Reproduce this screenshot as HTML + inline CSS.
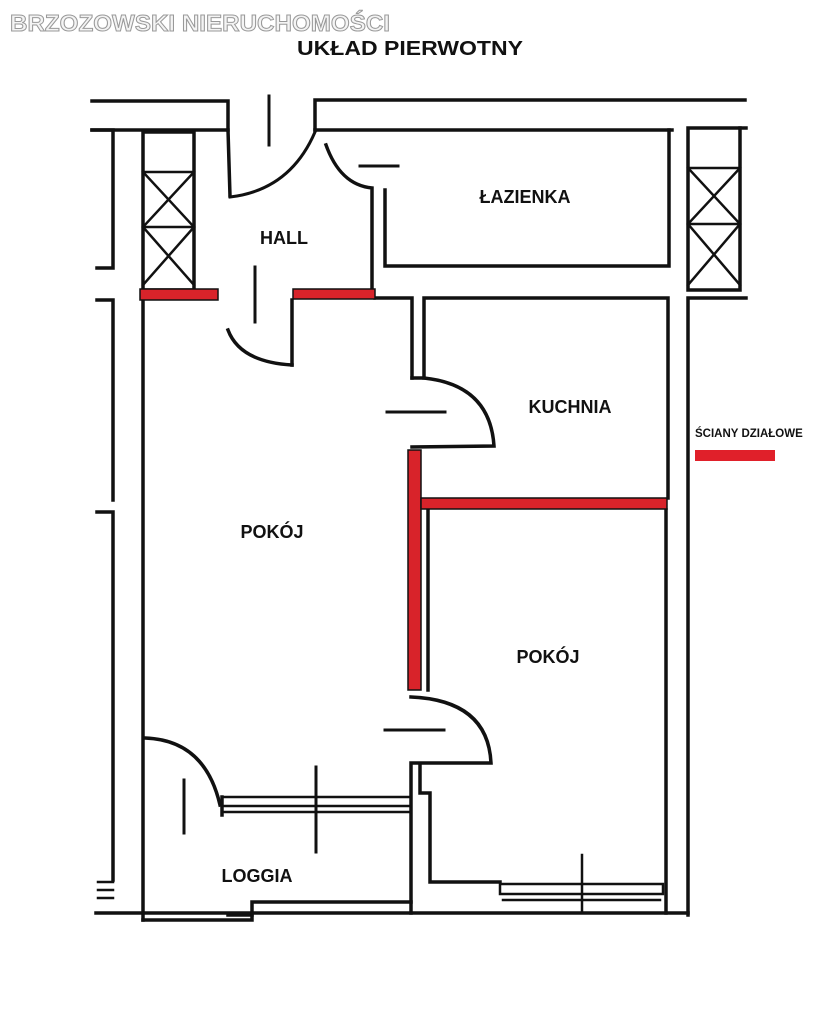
<!DOCTYPE html>
<html><head><meta charset="utf-8"><style>
body{margin:0;background:#fff;width:837px;height:1024px;overflow:hidden}
svg{display:block}
text{font-family:"Liberation Sans",sans-serif;font-weight:bold;fill:#111}
</style></head><body>
<svg width="837" height="1024" viewBox="0 0 837 1024" xmlns="http://www.w3.org/2000/svg">
<g fill="none" stroke="#111" stroke-width="3.5" stroke-linecap="square">
<polyline points="92,101 228,101 228,130"/>
<polyline points="92,130 228,130 230,196"/>
<polyline points="315,130 315,100 745,100"/>
<line x1="315" y1="130" x2="672" y2="130"/>
<line x1="269" y1="96" x2="269" y2="145" stroke-width="3"/>
<path d="M230,197 Q290,190 315,132" stroke-width="3"/>
<polyline points="385,190 385,266 669,266 669,130"/>
<path d="M326,145 Q340,185 372,188 L372,292"/>
<line x1="360" y1="166" x2="398" y2="166" stroke-width="3"/>
<polyline points="92,130 113,130 113,268 97,268"/>
<polyline points="97,300 113,300 113,500"/>
<polyline points="97,512 113,512 113,880"/>
<rect x="143" y="132" width="51" height="158"/>
<g stroke-width="2.5"><line x1="143" y1="172" x2="194" y2="172"/><line x1="143" y1="227" x2="194" y2="227"/>
<line x1="143" y1="172" x2="194" y2="227"/><line x1="194" y1="172" x2="143" y2="227"/>
<line x1="143" y1="227" x2="194" y2="285"/><line x1="194" y1="227" x2="143" y2="285"/></g>
<rect x="688" y="128" width="52" height="162"/>
<g stroke-width="2.5"><line x1="688" y1="168" x2="740" y2="168"/><line x1="688" y1="224" x2="740" y2="224"/>
<line x1="688" y1="168" x2="740" y2="224"/><line x1="740" y1="168" x2="688" y2="224"/>
<line x1="688" y1="224" x2="740" y2="285"/><line x1="740" y1="224" x2="688" y2="285"/></g>
<line x1="740" y1="128" x2="746" y2="128"/>
<polyline points="746,298 688,298 688,915"/>
<line x1="143" y1="300" x2="143" y2="920"/>
<path d="M228,330 Q240,362 292,365" />
<line x1="292" y1="300" x2="292" y2="365"/>
<line x1="255" y1="267" x2="255" y2="322" stroke-width="3"/>
<polyline points="375,298 412,298 412,378"/>
<polyline points="424,378 424,298 668,298 668,498"/>
<path d="M412,378 L424,378 Q490,385 494,446 L412,447"/>
<line x1="387" y1="412" x2="445" y2="412" stroke-width="3"/>
<line x1="428" y1="510" x2="428" y2="690"/>
<line x1="666" y1="510" x2="666" y2="913"/>
<path d="M411,697 Q488,700 491,763 L411,763 L411,913"/>
<line x1="385" y1="730" x2="444" y2="730" stroke-width="3"/>
<polyline points="420,765 420,793 430,793 430,882 500,882"/>
<rect x="500" y="884" width="163" height="10" stroke-width="2.5"/>
<line x1="503" y1="900" x2="660" y2="900" stroke-width="2.5"/>
<line x1="582" y1="855" x2="582" y2="913" stroke-width="2.5"/>
<path d="M145,738 Q205,740 220,805"/>
<rect x="222" y="797" width="189" height="9" stroke-width="2.5"/>
<line x1="222" y1="812" x2="411" y2="812" stroke-width="2.5"/>
<line x1="222" y1="797" x2="222" y2="815"/>
<line x1="184" y1="780" x2="184" y2="833" stroke-width="3"/>
<line x1="316" y1="767" x2="316" y2="852" stroke-width="3"/>
<polyline points="411,902 252,902 252,915 228,915"/>
<polyline points="143,920 252,920 252,915"/>
<line x1="96" y1="913" x2="688" y2="913"/>
<g stroke-width="2.5"><line x1="98" y1="882" x2="113" y2="882"/><line x1="98" y1="890" x2="113" y2="890"/><line x1="98" y1="898" x2="113" y2="898"/></g>
</g>
<g fill="#d8232a" stroke="#111" stroke-width="1.5">
<rect x="140" y="289" width="78" height="11"/>
<rect x="293" y="289" width="82" height="10"/>
<rect x="408" y="450" width="13" height="240"/>
<rect x="421" y="498" width="246" height="11"/>
</g>
<rect x="695" y="450" width="80" height="11" fill="#e0202a"/>
<text x="10" y="31" font-size="23" stroke="#999" stroke-width="1" style="fill:#f4f4f4" textLength="380" lengthAdjust="spacingAndGlyphs">BRZOZOWSKI NIERUCHOMOŚCI</text>
<text x="297" y="55" font-size="20" textLength="226" lengthAdjust="spacingAndGlyphs">UKŁAD PIERWOTNY</text>
<text x="284" y="244" font-size="18" text-anchor="middle">HALL</text>
<text x="525" y="203" font-size="18" text-anchor="middle">ŁAZIENKA</text>
<text x="570" y="413" font-size="18" text-anchor="middle">KUCHNIA</text>
<text x="272" y="538" font-size="18" text-anchor="middle">POKÓJ</text>
<text x="548" y="663" font-size="18" text-anchor="middle">POKÓJ</text>
<text x="257" y="882" font-size="18" text-anchor="middle">LOGGIA</text>
<text x="695" y="437" font-size="11.5">ŚCIANY DZIAŁOWE</text>
</svg>
</body></html>
